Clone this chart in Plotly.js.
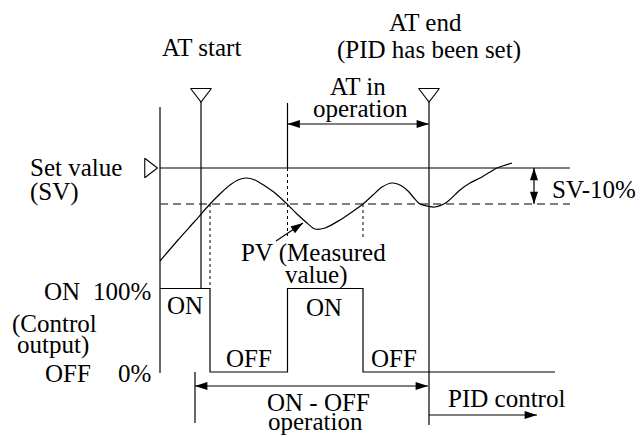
<!DOCTYPE html>
<html>
<head>
<meta charset="utf-8">
<script src="https://cdn.plot.ly/plotly-3.0.1.min.js"></script>
<style>html,body{margin:0;padding:0;background:#fff;}#chart{width:643px;height:437px;}</style>
</head>
<body>
<div id="chart"></div>
<script>
// ---- Diagram data (time axis = horizontal units, level axis = vertical units) ----
// Measured value (PV) curve
const pvTime  = [160,178,195,210,222,230,238,246,255,265,275,287,297,307,315,325,340,352,363,373,382,392,400,408,414,420,427,435,447,460,470,480,490,497,512];
const pvValue = [261,240,221,204,192,185,180,178,180,186,193,204,214,223,229,228,220,212,204,195,187,183,185,191,198,204,206,207,202,190,183,178,172,168,163];

// Control output (ON / OFF) trace
const outTime  = [160, 210, 210, 287.5, 287.5, 363, 363, 555];
const outLevel = [288.5, 288.5, 372, 372, 288.5, 288.5, 372, 372];

// Reference levels
const levelNames  = ['SV', 'SV-10%', 'ON 100%', 'OFF 0%'];
const levelValues = [168, 204, 288.5, 372];

// Event times
const eventNames = ['axis', 'AT start', 'first OFF', 'AT in operation', 'second OFF', 'AT end', 'ON-OFF start'];
const eventTimes = [160, 201, 210, 287.5, 363, 429, 195];

// Extents
const lineEnd = 570;      // end of SV / SV-10% lines
const markerTop = 102;    // bottom of start/end markers
const axisTop = 107;

const SV = levelValues[0], SV10 = levelValues[1], ON = levelValues[2], OFF = levelValues[3];
const tAxis = eventTimes[0], tATs = eventTimes[1], tOff1 = eventTimes[2], tATin = eventTimes[3],
      tOff2 = eventTimes[4], tATe = eventTimes[5], tOnOff = eventTimes[6];

// ---- styles ----
const BLACK = '#000';
const LW = 1.2;
const FONT = {family: 'Liberation Serif, Times New Roman, serif', size: 25, color: '#000'};

function seg(x, y, opts) {
  opts = opts || {};
  return {
    type: 'scatter', mode: 'lines', x: x, y: y, hoverinfo: 'skip', showlegend: false,
    line: {color: opts.color || BLACK, width: opts.width || LW, dash: opts.dash || 'solid', shape: opts.shape || 'linear', smoothing: opts.smoothing}
  };
}
function arrowHeads(xs, ys, angles) {
  return {type: 'scatter', mode: 'markers', x: xs, y: ys, hoverinfo: 'skip', showlegend: false,
    marker: {symbol: 'arrow', size: 13, angle: angles, color: BLACK, line: {width: 0}}};
}

const traces = [
  // left axis
  seg([tAxis, tAxis], [axisTop, OFF + 1]),
  // SV line and SV-10% dashed line
  seg([tAxis, lineEnd], [SV, SV]),
  seg([tAxis, lineEnd], [SV10, SV10], {color: '#555', dash: '8px,5px', width: 1.4}),
  // AT start vertical
  seg([tATs, tATs], [markerTop, ON]),
  // AT in operation start: solid above SV, dotted below
  seg([tATin, tATin], [markerTop + 1, SV]),
  seg([tATin, tATin], [SV, 236], {dash: '3px,3px', width: 1}),
  // dotted drop lines from SV-10% crossings
  seg([tOff1, tOff1], [SV10, ON], {dash: '3px,3px', width: 1}),
  seg([tOff2, tOff2], [SV10, 238], {dash: '3px,3px', width: 1}),
  // AT end vertical
  seg([tATe, tATe], [markerTop, 425]),
  // ON-OFF operation start tick
  seg([tOnOff, tOnOff], [OFF, 423]),
  // control output
  seg(outTime, outLevel),
  // PV curve
  seg(pvTime, pvValue, {shape: 'spline', smoothing: 0.8}),
  // arrow shafts
  seg([tATin, tATe], [124, 124]),
  seg([tOnOff, tATe - 1], [386, 386]),
  seg([tATe, 537], [415, 415]),
  seg([534, 534], [SV, SV10]),
  seg([276, 303], [241, 223]),
  // arrow heads
  arrowHeads([tATin, tATe, tOnOff, tATe - 1, 537, 534, 534, 303],
             [124, 124, 386, 386, 415, SV, SV10, 223],
             [-90, 90, -90, 90, 90, 0, 180, 56]),
  // open triangle markers (AT start / AT end / set value)
  {type: 'scatter', mode: 'markers', x: [tATs, tATe], y: [93, 93], hoverinfo: 'skip', showlegend: false,
   marker: {symbol: 'triangle-down-open', size: 18, color: BLACK, line: {width: 1.1, color: BLACK}}},
  {type: 'scatter', mode: 'markers', x: [149], y: [SV], hoverinfo: 'skip', showlegend: false,
   marker: {symbol: 'triangle-right-open', size: 17, color: BLACK, line: {width: 1.1, color: BLACK}}}
];

// ---- text labels ----
const labels = [
  ['AT start', 201, 47, 'center'],
  ['AT end', 425, 22, 'center'],
  ['(PID has been set)', 429, 50, 'center'],
  ['AT in', 358, 86, 'center'],
  ['operation', 360, 108, 'center'],
  ['Set value', 28, 167, 'left'],
  ['(SV)', 28, 192, 'left'],
  ['SV-10%', 550, 189, 'left'],
  ['PV (Measured', 313, 253, 'center'],
  ['value)', 316, 275, 'center'],
  ['ON', 62, 291, 'center'],
  ['100%', 153, 291, 'right'],
  ['(Control', 54, 324, 'center'],
  ['output)', 53, 345, 'center'],
  ['OFF', 68, 373, 'center'],
  ['0%', 153, 373, 'right'],
  ['ON', 185, 305, 'center'],
  ['ON', 324, 307, 'center'],
  ['OFF', 249, 358, 'center'],
  ['OFF', 394, 358, 'center'],
  ['ON - OFF', 318, 402, 'center'],
  ['operation', 315, 421, 'center'],
  ['PID control', 506, 398, 'center']
];
const annotations = labels.map(l => ({
  text: l[0], x: l[1], y: l[2], xref: 'x', yref: 'y', xanchor: l[3], yanchor: 'middle',
  showarrow: false, font: FONT
}));

const layout = {
  width: 643, height: 437,
  margin: {l: 0, r: 0, t: 0, b: 0, pad: 0},
  paper_bgcolor: '#fff', plot_bgcolor: '#fff',
  xaxis: {range: [0, 643], visible: false, fixedrange: true},
  yaxis: {range: [437, 0], visible: false, fixedrange: true},
  annotations: annotations,
  showlegend: false
};

Plotly.newPlot('chart', traces, layout, {staticPlot: true, displayModeBar: false});
</script>
</body>
</html>
